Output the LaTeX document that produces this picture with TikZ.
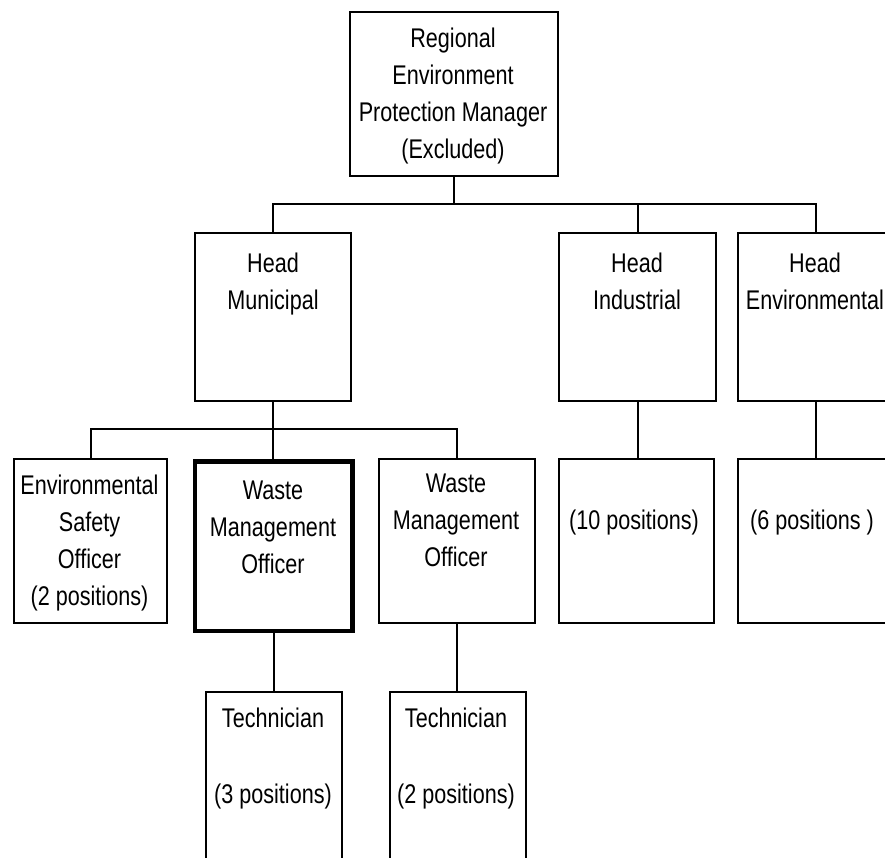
\documentclass[tikz,border=0pt]{standalone}
\usepackage{fontspec}
\setmainfont{Liberation Sans}[FakeStretch=0.8]
\begin{document}
\begin{tikzpicture}[x=1pt,y=-1pt,
  box/.style={draw,line width=2pt,inner sep=0pt,outer sep=0pt},
  thickbox/.style={draw,line width=4.5pt,inner sep=0pt,outer sep=0pt},
  conn/.style={draw,line width=2pt},
  txt/.style={anchor=north,align=center,inner sep=0pt,font=\fontsize{27pt}{37pt}\selectfont}]
\clip (0,0) rectangle (885,857);
\fill[white] (0,0) rectangle (885,857);
% boxes
\node[box,minimum width=208pt,minimum height=164pt] (top) at (454,94) {};
\node[box,minimum width=156pt,minimum height=168pt] (hm) at (273,317) {};
\node[box,minimum width=157pt,minimum height=168pt] (hi) at (637.5,317) {};
\node[box,minimum width=156pt,minimum height=168pt] (he) at (816,317) {};
\node[box,minimum width=153pt,minimum height=164pt] (es) at (90.5,541) {};
\node[thickbox,minimum width=157.5pt,minimum height=169.5pt] (wm1) at (273.5,546) {};
\node[box,minimum width=156pt,minimum height=164pt] (wm2) at (456.5,541) {};
\node[box,minimum width=155pt,minimum height=164pt] (p10) at (636.5,541) {};
\node[box,minimum width=156pt,minimum height=164pt] (p6) at (816,541) {};
\node[box,minimum width=136pt,minimum height=200pt] (t1) at (274,792) {};
\node[box,minimum width=136pt,minimum height=200pt] (t2) at (458,792) {};
% connectors
\coordinate (j1) at (454,204);
\coordinate (j2) at (273,429);
\draw[conn] (top.south) -- (j1);
\draw[conn] (hm.north) |- (j1) -| (he.north);
\draw[conn] (hi.north) -- (hi.north |- j1);
\draw[conn] (hm.south) -- (hm.south |- wm1.north);
\draw[conn] (es.north) |- (j2) -| (wm2.north);
\draw[conn] (hi.south) -- (hi.south |- p10.north);
\draw[conn] (he.south) -- (he.south |- p6.north);
\draw[conn] (wm1.south) -- (wm1.south |- t1.north);
\draw[conn] (wm2.south) -- (wm2.south |- t2.north);
% texts
\node[txt] (ttop) at (453,27.5) {Regional\\Environment\\Protection Manager\\(Excluded)};
\node[txt] (thm) at (273,252.5) {Head\\Municipal};
\node[txt] (thi) at (637,252.5) {Head\\Industrial};
\node[txt] (the) at (815,252.5) {Head\\Environmental};
\node[txt] (tes) at (89.5,474.5) {Environmental\\Safety\\Officer\\(2 positions)};
\node[txt] (twm1) at (273,480.5) {Waste\\Management\\Officer};
\node[txt] (twm2) at (456,473.5) {Waste\\Management\\Officer};
\node[txt] (tp10) at (634,510) {(10 positions)};
\node[txt] (tp6) at (812,510) {(6 positions )};
\node[txt] (tt1) at (273,707.5) {Technician\\[39pt](3 positions)};
\node[txt] (tt2) at (456,707.5) {Technician\\[39pt](2 positions)};
\end{tikzpicture}
\end{document}
